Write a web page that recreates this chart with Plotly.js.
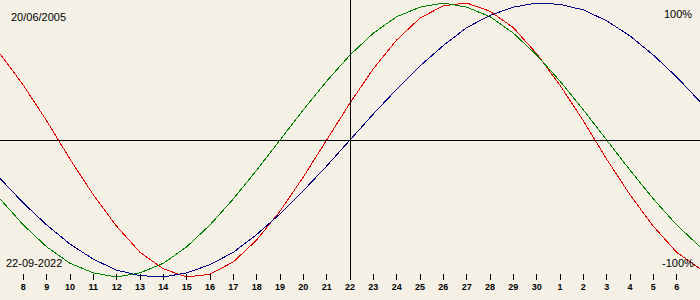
<!DOCTYPE html>
<html>
<head>
<meta charset="utf-8">
<script src="https://cdn.plot.ly/plotly-3.0.1.min.js"></script>
<style>
html,body{margin:0;padding:0;background:#f4f0e5;}
#chart{width:700px;height:300px;}
#chart .shapelayer path, #chart .scatterlayer path, #chart .xtick, #chart path.xtick {shape-rendering: crispEdges;}
</style>
</head>
<body>
<div id="chart"></div>
<script>
// Day index: 7 = 7 Sep 2022 ... 30 = 30 Sep, 31 = 1 Oct ... 37 = 7 Oct
const days = [7,8,9,10,11,12,13,14,15,16,17,18,19,20,21,22,23,24,25,26,27,28,29,30,31,32,33,34,35,36,37];
const physical = [0.63,0.40,0.14,-0.14,-0.40,-0.63,-0.82,-0.94,-1.00,-0.98,-0.89,-0.73,-0.52,-0.27,0.00,0.27,0.52,0.73,0.89,0.98,1.00,0.94,0.82,0.63,0.40,0.14,-0.14,-0.40,-0.63,-0.82,-0.94];
const emotional = [-0.43,-0.62,-0.78,-0.90,-0.97,-1.00,-0.97,-0.90,-0.78,-0.62,-0.43,-0.22,0.00,0.22,0.43,0.62,0.78,0.90,0.97,1.00,0.97,0.90,0.78,0.62,0.43,0.22,0.00,-0.22,-0.43,-0.62,-0.78];
const intellectual = [-0.28,-0.46,-0.62,-0.76,-0.87,-0.95,-0.99,-1.00,-0.97,-0.91,-0.82,-0.69,-0.54,-0.37,-0.19,0.00,0.19,0.37,0.54,0.69,0.82,0.91,0.97,1.00,0.99,0.95,0.87,0.76,0.62,0.46,0.28];
const tickDays = [8,9,10,11,12,13,14,15,16,17,18,19,20,21,22,23,24,25,26,27,28,29,30,31,32,33,34,35,36];
const tickLabels = ["8","9","10","11","12","13","14","15","16","17","18","19","20","21","22","23","24","25","26","27","28","29","30","1","2","3","4","5","6"];
const birthLabel = "20/06/2005";
const dateLabel = "22-09-2022";
const todayDay = 22;

const bg = "#f4f0e5";
const traces = [
  {x: days, y: physical, mode: "lines", line: {color: "#dc0000", width: 1}, hoverinfo: "skip"},
  {x: days, y: emotional, mode: "lines", line: {color: "#008000", width: 1}, hoverinfo: "skip"},
  {x: days, y: intellectual, mode: "lines", line: {color: "#000080", width: 1}, hoverinfo: "skip"}
];
const annFont = {family: "Liberation Sans, Arial, sans-serif", size: 11, color: "#000"};
const layout = {
  width: 700, height: 300,
  margin: {l: 0, r: 0, t: 0, b: 20, pad: 0},
  paper_bgcolor: bg, plot_bgcolor: bg,
  showlegend: false,
  xaxis: {
    range: [7, 37], showgrid: false, zeroline: false, showline: false,
    tickmode: "array", tickvals: tickDays, ticktext: tickLabels,
    ticks: "inside", ticklen: 6, tickwidth: 1, tickcolor: "#000",
    tickfont: {family: "Liberation Sans, Arial, sans-serif", size: 9, color: "#000", weight: "bold"},
    fixedrange: true
  },
  yaxis: {
    range: [-1.022, 1.022], showgrid: false, zeroline: false, showline: false,
    showticklabels: false, ticks: "", fixedrange: true
  },
  shapes: [
    {type: "line", xref: "paper", yref: "y", x0: 0, x1: 1, y0: 0, y1: 0, line: {color: "#000", width: 1}},
    {type: "line", xref: "x", yref: "paper", x0: todayDay, x1: todayDay, y0: 0, y1: 1, line: {color: "#000", width: 1}}
  ],
  annotations: [
    {text: birthLabel, xref: "paper", yref: "paper", x: 9/700, y: 0.941, xanchor: "left", yanchor: "middle", showarrow: false, font: annFont},
    {text: dateLabel, xref: "paper", yref: "paper", x: 4/700, y: 0.0625, xanchor: "left", yanchor: "middle", showarrow: false, font: annFont},
    {text: "100%", xref: "paper", yref: "paper", x: 694/700, y: 0.95, xanchor: "right", yanchor: "middle", showarrow: false, font: annFont},
    {text: "-100%", xref: "paper", yref: "paper", x: 696/700, y: 0.061, xanchor: "right", yanchor: "middle", showarrow: false, font: annFont}
  ]
};
Plotly.newPlot("chart", traces, layout, {displayModeBar: false, staticPlot: true});
</script>
</body>
</html>
